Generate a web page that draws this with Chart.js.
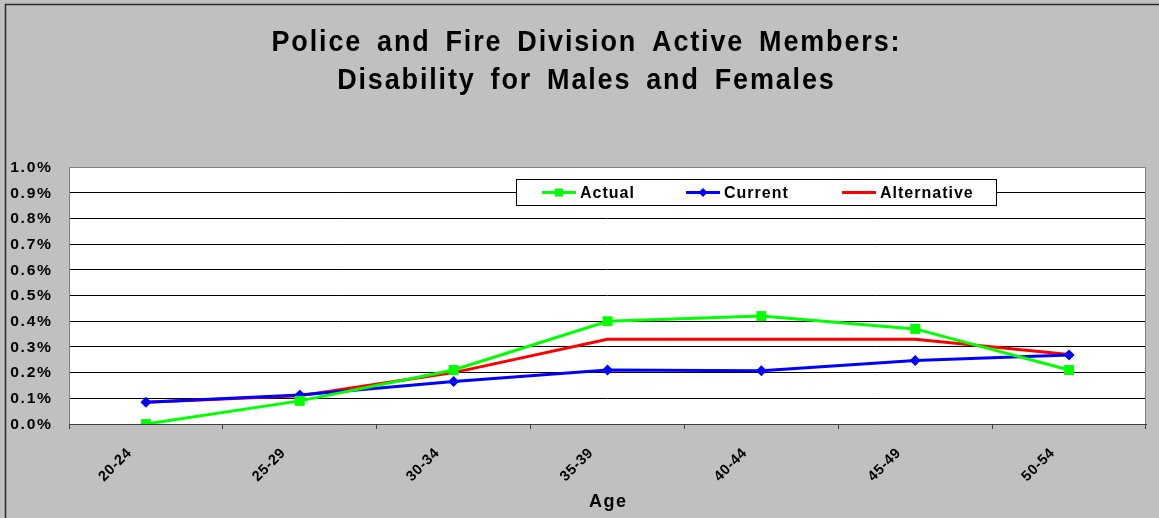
<!DOCTYPE html>
<html>
<head>
<meta charset="utf-8">
<style>
  html, body { margin: 0; padding: 0; background: #c0c0c0; overflow: hidden; }
  #wrap { position: relative; width: 1159px; height: 518px; }
  canvas { display: block; }
</style>
<script src="https://cdn.jsdelivr.net/npm/chart.js@4/dist/chart.umd.min.js"></script>
</head>
<body>
<div id="wrap"><canvas id="chart" width="1159" height="518"></canvas></div>
<script>
// Age bands on the horizontal axis
const ageGroups = ['20-24', '25-29', '30-34', '35-39', '40-44', '45-49', '50-54'];

// Disability rates, in percent
const actualRates      = [0.00, 0.09, 0.21, 0.40, 0.42, 0.37, 0.21];
const currentRates     = [0.085, 0.113, 0.165, 0.21, 0.207, 0.247, 0.268];
const alternativeRates = [0.085, 0.11, 0.20, 0.33, 0.33, 0.33, 0.27];

// Vertical axis labels, bottom to top
const rateTickLabels = ['0.0%', '0.1%', '0.2%', '0.3%', '0.4%', '0.5%', '0.6%', '0.7%', '0.8%', '0.9%', '1.0%'];

const titleLines = ['Police and Fire Division Active Members:', 'Disability for Males and Females'];
const xAxisTitle = 'Age';

const FONT = '"Liberation Sans", Arial, sans-serif';

// Draws a string with a horizontal stretch factor, anchored by its visible left/right/centre
function drawText(ctx, text, x, y, opts) {
  const { font, spacing = 0, words = 0, stretch = 1, align = 'left', baseline = 'alphabetic', angle = 0 } = opts;
  ctx.save();
  ctx.font = font;
  ctx.letterSpacing = spacing + 'px';
  ctx.wordSpacing = words + 'px';
  ctx.textAlign = 'left';
  ctx.textBaseline = baseline;
  const w = (ctx.measureText(text).width - spacing) * stretch;
  ctx.translate(x, y);
  if (angle) ctx.rotate(angle);
  let ox = 0;
  if (align === 'right') ox = -w;
  else if (align === 'center') ox = -w / 2;
  ctx.translate(ox, 0);
  ctx.scale(stretch, 1);
  ctx.fillText(text, 0, 0);
  ctx.restore();
}

// Grey page, white plot area and frame lines
const backdrop = {
  id: 'backdrop',
  beforeDraw(chart) {
    const { ctx, width, height, chartArea: a } = chart;
    ctx.save();
    ctx.fillStyle = '#c0c0c0';
    ctx.fillRect(0, 0, width, height);
    ctx.strokeStyle = '#2a2a2a';
    ctx.lineWidth = 1.5;
    ctx.beginPath();
    ctx.moveTo(5.5, height);
    ctx.lineTo(5.5, 4.5);
    ctx.lineTo(width, 4.5);
    ctx.stroke();
    ctx.fillStyle = '#ffffff';
    ctx.fillRect(a.left, a.top, a.right - a.left, a.bottom - a.top);
    ctx.restore();
  },
  beforeDatasetsDraw(chart) {
    const { ctx, chartArea: a } = chart;
    ctx.save();
    ctx.strokeStyle = '#808080';
    ctx.lineWidth = 1;
    ctx.beginPath();
    ctx.moveTo(a.left + 0.5, a.bottom);
    ctx.lineTo(a.left + 0.5, a.top + 0.5);
    ctx.lineTo(a.right - 0.5, a.top + 0.5);
    ctx.lineTo(a.right - 0.5, a.bottom);
    ctx.stroke();
    ctx.restore();
  }
};

// Tick labels, title, axis caption and boxed legend
const annotations = {
  id: 'annotations',
  afterDraw(chart) {
    const { ctx, chartArea: a } = chart;
    const xs = chart.scales.x, ys = chart.scales.y;
    ctx.save();
    ctx.fillStyle = '#000';

    // value labels on the left
    ys.ticks.forEach((t, i) => {
      drawText(ctx, rateTickLabels[i], ys.right - 18, ys.getPixelForValue(t.value) + 1, {
        font: 'bold 14px ' + FONT, spacing: 1.5, stretch: 1.12, align: 'right', baseline: 'middle'
      });
    });

    // slanted age labels below the axis
    ageGroups.forEach((label, i) => {
      drawText(ctx, label, xs.getPixelForValue(i) - 22, a.bottom + 22, {
        font: 'bold 14.5px ' + FONT, spacing: 0.6, align: 'right', baseline: 'top', angle: -Math.PI / 4
      });
    });

    // chart title
    const titleFont = { font: 'bold 29px ' + FONT, spacing: 2, words: 6, stretch: 0.93, align: 'center' };
    drawText(ctx, titleLines[0], 585.5, 51, titleFont);
    drawText(ctx, titleLines[1], 585.5, 88.5, titleFont);

    // axis caption
    drawText(ctx, xAxisTitle, (a.left + a.right) / 2, 507, {
      font: 'bold 18px ' + FONT, spacing: 1.5, align: 'center'
    });

    // legend box
    const box = { x: 516.5, y: 179.5, w: 480, h: 26 };
    ctx.fillStyle = '#fff';
    ctx.fillRect(box.x, box.y, box.w, box.h);
    ctx.strokeStyle = '#000';
    ctx.lineWidth = 1;
    ctx.strokeRect(box.x, box.y, box.w, box.h);

    const starts = [542, 686, 842];
    const cy = 192.5;
    chart.data.datasets.forEach((ds, i) => {
      const sx = starts[i];
      ctx.strokeStyle = ds.borderColor;
      ctx.lineWidth = 3;
      ctx.beginPath();
      ctx.moveTo(sx, cy);
      ctx.lineTo(sx + 34, cy);
      ctx.stroke();
      const mx = sx + 17;
      ctx.fillStyle = ds.pointBackgroundColor;
      if (ds.pointStyle === 'rect') {
        ctx.fillRect(mx - 4, cy - 4, 8, 8);
      } else if (ds.pointStyle === 'rectRot') {
        ctx.beginPath();
        ctx.moveTo(mx - 4.5, cy);
        ctx.lineTo(mx, cy - 4.5);
        ctx.lineTo(mx + 4.5, cy);
        ctx.lineTo(mx, cy + 4.5);
        ctx.closePath();
        ctx.fill();
      }
      ctx.fillStyle = '#000';
      drawText(ctx, ds.label, sx + 38, cy + 1, {
        font: 'bold 16px ' + FONT, spacing: 1, baseline: 'middle'
      });
    });
    ctx.restore();
  }
};

new Chart(document.getElementById('chart'), {
  type: 'line',
  data: {
    labels: ageGroups,
    datasets: [
      {
        label: 'Actual',
        data: actualRates,
        borderColor: '#00ff00',
        backgroundColor: '#00ff00',
        pointBackgroundColor: '#00ff00',
        pointBorderColor: '#00ff00',
        borderWidth: 3,
        pointStyle: 'rect',
        pointRadius: 7,
        pointBorderWidth: 0,
        tension: 0
      },
      {
        label: 'Current',
        data: currentRates,
        borderColor: '#0000ff',
        backgroundColor: '#0000ff',
        pointBackgroundColor: '#0000ff',
        pointBorderColor: '#0000ff',
        borderWidth: 3,
        pointStyle: 'rectRot',
        pointRadius: 5.5,
        pointBorderWidth: 0,
        tension: 0
      },
      {
        label: 'Alternative',
        data: alternativeRates,
        borderColor: '#ff0000',
        backgroundColor: '#ff0000',
        pointBackgroundColor: '#ff0000',
        pointBorderColor: '#ff0000',
        borderWidth: 3,
        pointStyle: false,
        pointRadius: 0,
        tension: 0
      }
    ]
  },
  options: {
    responsive: false,
    animation: false,
    events: [],
    layout: { padding: { left: 0, right: 13, top: 167, bottom: 0 } },
    plugins: {
      legend: { display: false },
      title: { display: false },
      tooltip: { enabled: false }
    },
    scales: {
      x: {
        type: 'category',
        offset: true,
        grid: {
          drawOnChartArea: false,
          drawTicks: true,
          tickLength: 5,
          color: '#404040',
          offset: true
        },
        border: { display: true, color: '#404040', width: 1 },
        ticks: { display: false, autoSkip: false },
        afterFit(scale) { scale.height = 94; }
      },
      y: {
        min: 0,
        max: 1,
        ticks: { display: false, stepSize: 0.1 },
        grid: {
          drawTicks: false,
          color: ctx => (ctx.index === rateTickLabels.length - 1 ? '#808080' : '#000'),
          lineWidth: 1
        },
        border: { display: false },
        afterFit(scale) { scale.width = 69; }
      }
    }
  },
  plugins: [backdrop, annotations]
});
</script>
</body>
</html>
